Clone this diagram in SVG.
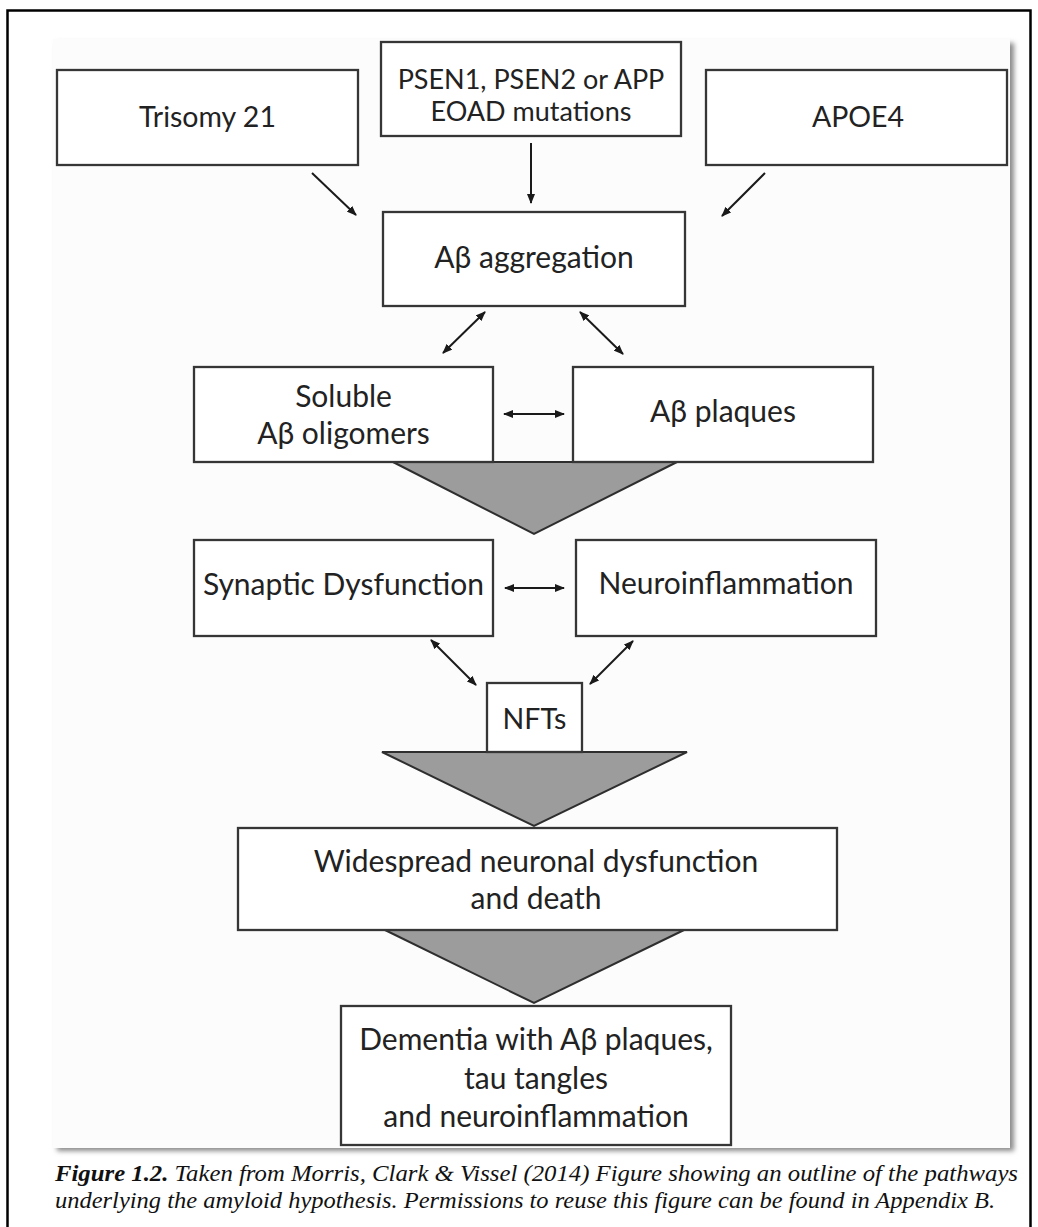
<svg xmlns="http://www.w3.org/2000/svg" width="1038" height="1227" viewBox="0 0 1038 1227">
<style>
.box{fill:#fff;stroke:#363636;stroke-width:2.3}
.tri{fill:#9c9c9c;stroke:#2e2e2e;stroke-width:2}
.lbl{font-family:Lato,"Open Sans","Noto Sans",sans-serif;font-size:30px;fill:#222;text-anchor:middle}
.lc{font-size:28.5px}
.sm{font-size:27px}
.con{stroke:#1a1a1a;stroke-width:2;fill:none}
.cap{font-family:"Liberation Serif","Times New Roman",serif;font-style:italic;font-size:24px;fill:#111}
</style>
<defs>
<marker id="ah" viewBox="0 0 10 8" refX="9" refY="4" markerWidth="10" markerHeight="8" markerUnits="userSpaceOnUse" orient="auto-start-reverse">
<path d="M0,0 L10,4 L0,8 z" fill="#1a1a1a"/>
</marker>
<filter id="sh" x="-5%" y="-5%" width="110%" height="110%">
<feGaussianBlur stdDeviation="2.5"/>
</filter>
</defs>
<rect width="1038" height="1227" fill="#fff"/>
<path d="M7.5,1230 V10.5 H1030.5 V1230" fill="none" stroke="#000" stroke-width="2.5"/>
<g id="panel">
<rect x="57" y="43" width="957" height="1108" fill="#8a8a8a" filter="url(#sh)"/>
<rect x="53" y="39" width="957" height="1109" fill="#fcfcfc"/>
</g>
<g id="connectors">
<line class="con" x1="312" y1="173" x2="356" y2="215" marker-end="url(#ah)"/>
<line class="con" x1="531" y1="143" x2="531" y2="203" marker-end="url(#ah)"/>
<line class="con" x1="765" y1="173" x2="722" y2="216" marker-end="url(#ah)"/>
<line class="con" x1="485" y1="312" x2="443" y2="353" marker-start="url(#ah)" marker-end="url(#ah)"/>
<line class="con" x1="580" y1="312" x2="623" y2="354" marker-start="url(#ah)" marker-end="url(#ah)"/>
<line class="con" x1="504" y1="414" x2="564" y2="414" marker-start="url(#ah)" marker-end="url(#ah)"/>
<line class="con" x1="505" y1="588" x2="564" y2="588" marker-start="url(#ah)" marker-end="url(#ah)"/>
<line class="con" x1="431" y1="640" x2="476" y2="685" marker-start="url(#ah)" marker-end="url(#ah)"/>
<line class="con" x1="633" y1="641" x2="590" y2="684" marker-start="url(#ah)" marker-end="url(#ah)"/>
<polygon class="tri" points="393,462 677,462 534,534"/>
<polygon class="tri" points="382,752 687,752 534,826"/>
<polygon class="tri" points="385,930 684,930 534,1003"/>
</g>
<g id="trisomy"><rect class="box" x="57" y="70" width="301" height="95"/><text class="lbl lc" x="207.5" y="127">Trisomy 21</text></g>
<g id="psen"><rect class="box" x="381" y="42" width="300" height="94"/><text class="lbl sm" x="531" y="89">PSEN1, PSEN2 or APP</text><text class="lbl sm" x="531" y="121">EOAD mutations</text></g>
<g id="apoe4"><rect class="box" x="706" y="70" width="301" height="95"/><text class="lbl lc" x="858" y="127">APOE4</text></g>
<g id="aggregation"><rect class="box" x="383" y="212" width="302" height="94"/><text class="lbl" x="534" y="268">Aβ aggregation</text></g>
<g id="soluble"><rect class="box" x="194" y="367" width="299" height="95"/><text class="lbl" x="343.5" y="407">Soluble</text><text class="lbl" x="343.5" y="444">Aβ oligomers</text></g>
<g id="plaques"><rect class="box" x="573" y="367" width="300" height="95"/><text class="lbl" x="723" y="422">Aβ plaques</text></g>
<g id="synaptic"><rect class="box" x="194" y="540" width="299" height="96"/><text class="lbl" x="343.5" y="595">Synaptic Dysfunction</text></g>
<g id="neuroinflammation"><rect class="box" x="576" y="540" width="300" height="96"/><text class="lbl" x="726" y="594">Neuroinflammation</text></g>
<g id="nfts"><rect class="box" x="487" y="683" width="95" height="69"/><text class="lbl lc" x="534.5" y="729">NFTs</text></g>
<g id="widespread"><rect class="box" x="238" y="828" width="599" height="102"/><text class="lbl" x="536" y="872">Widespread neuronal dysfunction</text><text class="lbl" x="536" y="909">and death</text></g>
<g id="dementia"><rect class="box" x="341" y="1006" width="390" height="139"/><text class="lbl" x="536" y="1050">Dementia with Aβ plaques,</text><text class="lbl" x="536" y="1089">tau tangles</text><text class="lbl" x="536" y="1127">and neuroinflammation</text></g>
<g id="caption">
<text class="cap" x="55" y="1181" textLength="963" lengthAdjust="spacingAndGlyphs"><tspan font-weight="bold">Figure 1.2.</tspan> Taken from Morris, Clark &amp; Vissel (2014) Figure showing an outline of the pathways</text>
<text class="cap" x="55" y="1208" textLength="940" lengthAdjust="spacingAndGlyphs">underlying the amyloid hypothesis. Permissions to reuse this figure can be found in Appendix B.</text>
</g>
</svg>
